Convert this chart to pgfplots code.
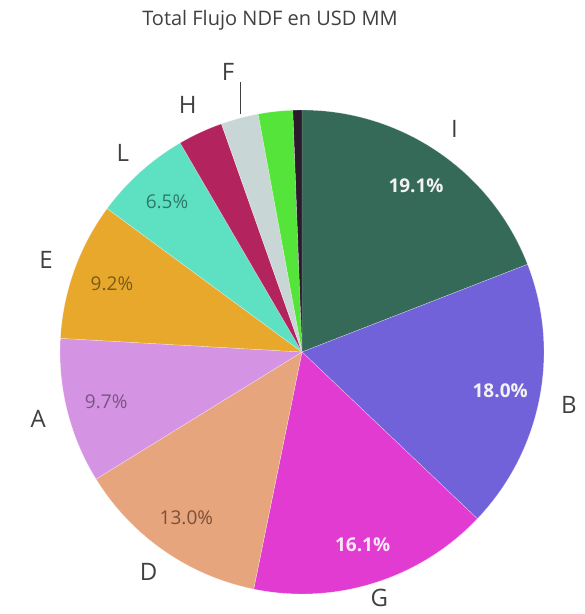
\documentclass[border=0pt]{standalone}
\usepackage{pgfplots}
\usepackage{pgfplotstable}
\pgfplotsset{compat=1.18}
\usepackage{fontspec}
\setmainfont{Open Sans}
\definecolor{cI}{HTML}{356A58}
\definecolor{cB}{HTML}{7162D9}
\definecolor{cG}{HTML}{E23BD2}
\definecolor{cD}{HTML}{E7A57E}
\definecolor{cA}{HTML}{D593E3}
\definecolor{cE}{HTML}{E8A82C}
\definecolor{cL}{HTML}{5EE0C3}
\definecolor{cH}{HTML}{B3245E}
\definecolor{cF}{HTML}{C9D6D6}
\definecolor{cJ}{HTML}{55E43A}
\definecolor{cK}{HTML}{2A1A2A}
\definecolor{tI}{HTML}{F2F2F2}
\definecolor{tB}{HTML}{F2F2F2}
\definecolor{tG}{HTML}{F8E8F6}
\definecolor{tD}{HTML}{7A5038}
\definecolor{tA}{HTML}{7A5485}
\definecolor{tE}{HTML}{7A5A18}
\definecolor{tL}{HTML}{2E7A68}
\definecolor{tH}{HTML}{FFFFFF}
\definecolor{tF}{HTML}{FFFFFF}
\definecolor{tJ}{HTML}{FFFFFF}
\definecolor{tK}{HTML}{FFFFFF}
\definecolor{labgray}{HTML}{404040}
% label pct slicecolor textcolor showpct(1 normal, 2 bold) showlabel labelradius
\pgfplotstableread{
label pct col txt showpct showlab lr
I 19.1 cI tI 2 1 270
B 18.0 cB tB 2 1 272
G 16.1 cG tG 2 1 258
D 13.0 cD tD 1 1 268
A 9.7 cA tA 1 1 272
E 9.2 cE tE 1 1 272
L 6.5 cL tL 1 1 268
H 3.0 cH tH 0 1 272
F 2.5 cF tF 0 0 270
J 2.3 cJ tJ 0 0 270
K 0.6 cK tK 0 0 270
}\piedata
\begin{document}
\begin{tikzpicture}
\begin{axis}[
  width=585pt, height=614pt, scale only axis,
  xmin=0, xmax=585, ymin=0, ymax=614,
  hide axis, clip=false,
]
\def\cx{302}
\def\cy{262}
\def\R{242}
\def\cum{0}
\pgfplotsforeachungrouped \i in {0,...,10}{%
  \pgfplotstablegetelem{\i}{pct}\of\piedata \let\p\pgfplotsretval
  \pgfplotstablegetelem{\i}{col}\of\piedata \let\c\pgfplotsretval
  \pgfplotstablegetelem{\i}{txt}\of\piedata \let\tc\pgfplotsretval
  \pgfplotstablegetelem{\i}{label}\of\piedata \let\lab\pgfplotsretval
  \pgfplotstablegetelem{\i}{showpct}\of\piedata \let\sp\pgfplotsretval
  \pgfplotstablegetelem{\i}{showlab}\of\piedata \let\sl\pgfplotsretval
  \pgfplotstablegetelem{\i}{lr}\of\piedata \let\lr\pgfplotsretval
  \pgfmathsetmacro\aS{90-3.6*\cum}%
  \pgfmathsetmacro\aE{90-3.6*(\cum+\p)}%
  \pgfmathsetmacro\aM{(\aS+\aE)/2}%
  \pgfmathsetmacro\px{\cx+202*cos(\aM)}%
  \pgfmathsetmacro\py{\cy+202*sin(\aM)}%
  \pgfmathsetmacro\lx{\cx+\lr*cos(\aM)}%
  \pgfmathsetmacro\ly{\cy+\lr*sin(\aM)}%
  \edef\doit{\noexpand\fill[\c, draw=white, draw opacity=0.5, line width=0.4pt] (axis cs:\cx,\cy) -- ++(\aS:\R pt) arc[start angle=\aS, end angle=\aE, radius=\R pt] -- cycle;}%
  \doit
  \ifnum\sp>0
    \ifnum\sp=2 \def\bf{\noexpand\bfseries}\else\def\bf{}\fi
    \edef\doit{\noexpand\node[text=\tc, font=\noexpand\fontsize{19}{21}\noexpand\selectfont\bf] at (axis cs:\px,\py) {\noexpand\pgfmathprintnumber[fixed, fixed zerofill, precision=1, assume math mode=true]{\p}\noexpand\%};}%
    \doit
  \fi
  \ifnum\sl=1
    \edef\doit{\noexpand\node[text=labgray, font=\noexpand\fontsize{24}{26}\noexpand\selectfont] at (axis cs:\lx,\ly) {\lab};}%
    \doit
  \fi
  \pgfmathsetmacro\cum{\cum+\p}%
}
\draw[labgray, line width=1pt] (axis cs:240,500) -- (axis cs:240,532);
\node[text=labgray, font=\fontsize{24}{26}\selectfont] at (axis cs:228,542) {F};
\node[text=labgray, font=\fontsize{20}{22}\selectfont] at (axis cs:270,594) {Total Flujo NDF en USD MM};
\end{axis}
\pgfresetboundingbox
\path (current axis.south west) rectangle (current axis.north east);
\end{tikzpicture}
\end{document}
